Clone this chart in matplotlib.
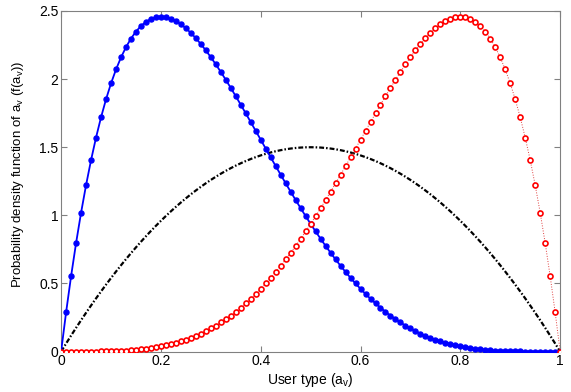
import numpy as np
import matplotlib
matplotlib.use("Agg")
import matplotlib.pyplot as plt

plt.rcParams["font.family"] = ["Liberation Sans", "DejaVu Sans"]
plt.rcParams["mathtext.fontset"] = "custom"
plt.rcParams["mathtext.rm"] = "Liberation Sans"

# user type grid (step 0.01)
a_v = np.arange(101) / 100.0

# blue: low-type population
f_low = [0.0, 0.2882, 0.5534, 0.7968, 1.0192, 1.2218, 1.4053, 1.5709, 1.7193, 1.8515,
         1.9683, 2.0705, 2.1589, 2.2343, 2.2974, 2.3490, 2.3898, 2.4204, 2.4415, 2.4537,
         2.4576, 2.4538, 2.4430, 2.4256, 2.4021, 2.3730, 2.3390, 2.3003, 2.2574, 2.2108,
         2.1609, 2.1080, 2.0526, 1.9950, 1.9354, 1.8743, 1.8119, 1.7486, 1.6845, 1.6200,
         1.5552, 1.4904, 1.4259, 1.3617, 1.2982, 1.2353, 1.1734, 1.1126, 1.0529, 0.9945,
         0.9375, 0.8820, 0.8281, 0.7759, 0.7254, 0.6766, 0.6297, 0.5846, 0.5414, 0.5002,
         0.4608, 0.4234, 0.3878, 0.3542, 0.3225, 0.2926, 0.2646, 0.2384, 0.2139, 0.1912,
         0.1701, 0.1507, 0.1328, 0.1164, 0.1015, 0.0879, 0.0756, 0.0646, 0.0548, 0.0461,
         0.0384, 0.0317, 0.0258, 0.0208, 0.0165, 0.0129, 0.0099, 0.0075, 0.0055, 0.0039,
         0.0027, 0.0018, 0.0011, 0.0007, 0.0004, 0.0002, 0.0001, 0.0, 0.0, 0.0,
         0.0]

# red: high-type population
f_high = [0.0, 0.0, 0.0, 0.0, 0.0001, 0.0002, 0.0004, 0.0007, 0.0011, 0.0018,
          0.0027, 0.0039, 0.0055, 0.0075, 0.0099, 0.0129, 0.0165, 0.0208, 0.0258, 0.0317,
          0.0384, 0.0461, 0.0548, 0.0646, 0.0756, 0.0879, 0.1015, 0.1164, 0.1328, 0.1507,
          0.1701, 0.1912, 0.2139, 0.2384, 0.2646, 0.2926, 0.3225, 0.3542, 0.3878, 0.4234,
          0.4608, 0.5002, 0.5414, 0.5846, 0.6297, 0.6766, 0.7254, 0.7759, 0.8281, 0.8820,
          0.9375, 0.9945, 1.0529, 1.1126, 1.1734, 1.2353, 1.2982, 1.3617, 1.4259, 1.4904,
          1.5552, 1.6200, 1.6845, 1.7486, 1.8119, 1.8743, 1.9354, 1.9950, 2.0526, 2.1080,
          2.1609, 2.2108, 2.2574, 2.3003, 2.3390, 2.3730, 2.4021, 2.4256, 2.4430, 2.4538,
          2.4576, 2.4537, 2.4415, 2.4204, 2.3898, 2.3490, 2.2974, 2.2343, 2.1589, 2.0705,
          1.9683, 1.8515, 1.7193, 1.5709, 1.4053, 1.2218, 1.0192, 0.7968, 0.5534, 0.2882,
          0.0]

# black: symmetric population
f_mid = [0.0, 0.0594, 0.1176, 0.1746, 0.2304, 0.2850, 0.3384, 0.3906, 0.4416, 0.4914,
         0.5400, 0.5874, 0.6336, 0.6786, 0.7224, 0.7650, 0.8064, 0.8466, 0.8856, 0.9234,
         0.9600, 0.9954, 1.0296, 1.0626, 1.0944, 1.1250, 1.1544, 1.1826, 1.2096, 1.2354,
         1.2600, 1.2834, 1.3056, 1.3266, 1.3464, 1.3650, 1.3824, 1.3986, 1.4136, 1.4274,
         1.4400, 1.4514, 1.4616, 1.4706, 1.4784, 1.4850, 1.4904, 1.4946, 1.4976, 1.4994,
         1.5000, 1.4994, 1.4976, 1.4946, 1.4904, 1.4850, 1.4784, 1.4706, 1.4616, 1.4514,
         1.4400, 1.4274, 1.4136, 1.3986, 1.3824, 1.3650, 1.3464, 1.3266, 1.3056, 1.2834,
         1.2600, 1.2354, 1.2096, 1.1826, 1.1544, 1.1250, 1.0944, 1.0626, 1.0296, 0.9954,
         0.9600, 0.9234, 0.8856, 0.8466, 0.8064, 0.7650, 0.7224, 0.6786, 0.6336, 0.5874,
         0.5400, 0.4914, 0.4416, 0.3906, 0.3384, 0.2850, 0.2304, 0.1746, 0.1176, 0.0594,
         0.0]

x_ticks = [0, 0.2, 0.4, 0.6, 0.8, 1]
x_labels = ["0", "0.2", "0.4", "0.6", "0.8", "1"]
y_ticks = [0, 0.5, 1, 1.5, 2, 2.5]
y_labels = ["0", "0.5", "1", "1.5", "2", "2.5"]

fig = plt.figure(figsize=(5.71, 3.92), dpi=100)
ax = fig.add_axes([0.107, 0.103, 0.874, 0.869])

ax.plot(a_v, f_mid, color="black", lw=1.6, ls=(0, (2.2, 0.9, 0.7, 0.9)), zorder=2)
ax.plot(a_v, f_low, "-", color="#0000ff", lw=1.3, marker="o", ms=3.6,
        mfc="#0000ff", mec="#0000ff", zorder=3)
ax.plot(a_v, f_high, ":", color="#e04040", lw=0.7, marker="o", ms=3.6,
        mfc="white", mec="#ff0000", mew=1.2, zorder=3)

ax.set_xlim(0, 1)
ax.set_ylim(0, 2.5)
ax.set_xticks(x_ticks)
ax.set_xticklabels(x_labels)
ax.set_yticks(y_ticks)
ax.set_yticklabels(y_labels)
ax.tick_params(direction="in", length=4, width=0.8, color="#808080",
               top=True, right=True, labelsize=10, pad=2)
for s in ax.spines.values():
    s.set_color("#808080")
    s.set_linewidth(0.8)

ax.set_xlabel(r"User type (a$_\mathregular{v}$)", fontsize=10)
ax.set_ylabel(r"Probability density function of a$_\mathregular{v}$ (f(a$_\mathregular{v}$))",
              fontsize=9.5)
ax.xaxis.set_label_coords(0.5, -0.058)
ax.yaxis.set_label_coords(-0.07, 0.52)

fig.savefig("out.png", dpi=100)
